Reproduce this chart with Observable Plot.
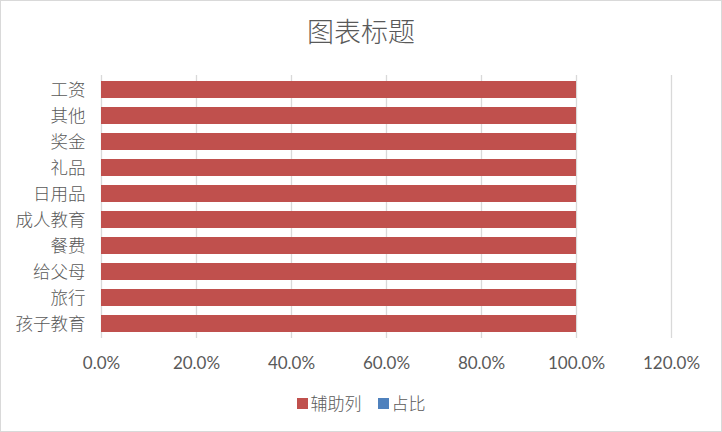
<!DOCTYPE html>
<html><head><meta charset="utf-8">
<script src="https://cdn.jsdelivr.net/npm/d3@7"></script>
<script src="https://cdn.jsdelivr.net/npm/@observablehq/plot@0.6"></script>
<style>
body{margin:0;background:#fff;}
#wrap{position:relative;width:720px;height:430px;border:1px solid #d9d9d9;background:#fff;font-family:Lato,"Noto Sans CJK SC",sans-serif;color:#595959;overflow:hidden}
#title{position:absolute;top:12px;left:0;width:100%;text-align:center;font-size:27px;line-height:36px;font-weight:300;font-family:"Noto Sans CJK SC",sans-serif;}
#chart{position:absolute;top:54px;left:0}
#legend{position:absolute;top:389px;left:0;width:100%;display:flex;justify-content:center;align-items:center;font-size:17px;line-height:26px;font-weight:300;font-family:"Noto Sans CJK SC",sans-serif;}
.item{display:flex;align-items:center;margin:0 8px;}
.sw{width:11px;height:11px;margin-right:3px;}
</style></head>
<body>
<div id="wrap">
  <div id="title"></div>
  <div id="chart"></div>
  <div id="legend"></div>
</div>
<script>
const title = "图表标题";
const categories = ["工资","其他","奖金","礼品","日用品","成人教育","餐费","给父母","旅行","孩子教育"];
const helperValues = [1,1,1,1,1,1,1,1,1,1]; // 辅助列
const seriesNames = ["辅助列","占比"];
const seriesColors = ["#C0504D","#4F81BD"];
const xTicks = [0,0.2,0.4,0.6,0.8,1.0,1.2];

document.getElementById("title").textContent = title;

const data = categories.map((c,i)=>({category:c, value:helperValues[i]}));

const chart = Plot.plot({
  width: 720,
  height: 328,
  marginLeft: 100,
  marginRight: 50,
  marginTop: 20,
  marginBottom: 45,
  style: {fontFamily: 'Lato, "Noto Sans CJK SC", sans-serif', fontSize: "17px", color: "#595959", background: "#fff"},
  x: {domain: [0, 1.2], ticks: xTicks, tickFormat: d => (d*100).toFixed(1) + "%"},
  y: {domain: categories, paddingInner: 0.34, paddingOuter: 0.17},
  marks: [
    Plot.gridX(xTicks, {stroke: "#d9d9d9", strokeOpacity: 1, strokeWidth: 1.3}),
    Plot.barX(data, {x: "value", y: "category", fill: seriesColors[0]}),
    Plot.axisX({ticks: xTicks, tickSize: 0, tickPadding: 18, tickFormat: d => (d*100).toFixed(1) + "%", label: null, fill: "#595959", fontSize: 17}),
    Plot.axisY({tickSize: 0, tickPadding: 16, label: null, fill: "#595959", fontSize: 17.5, fontWeight: 300, fontFamily: '"Noto Sans CJK SC", sans-serif'})
  ]
});
document.getElementById("chart").appendChild(chart);

const lg = document.getElementById("legend");
seriesNames.forEach((n,i)=>{
  const it = document.createElement("div"); it.className="item";
  const sw = document.createElement("div"); sw.className="sw"; sw.style.background = seriesColors[i];
  const t = document.createElement("span"); t.textContent = n;
  it.appendChild(sw); it.appendChild(t); lg.appendChild(it);
});
</script>
</body></html>
